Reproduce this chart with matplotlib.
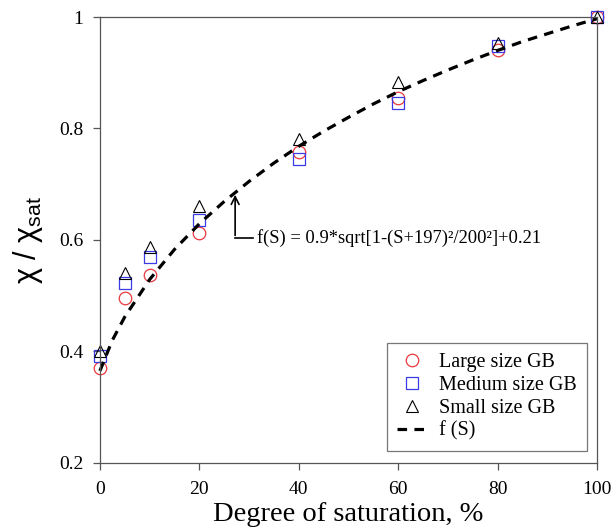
import matplotlib
matplotlib.use("Agg")
import matplotlib.pyplot as plt
from matplotlib.ticker import FuncFormatter

sat = [0, 5, 10, 20, 40, 60, 80, 100]
large_gb = [0.370, 0.496, 0.537, 0.612, 0.758, 0.854, 0.940, 1.000]
medium_gb = [0.391, 0.523, 0.569, 0.635, 0.745, 0.846, 0.948, 1.000]
small_gb = [0.400, 0.541, 0.588, 0.660, 0.782, 0.884, 0.953, 1.000]

# fitted curve f(S)
fit_s = [0, 2.5, 5, 10, 15, 20, 25, 30, 35, 40, 45, 50,
         55, 60, 65, 70, 75, 80, 85, 90, 95, 100]
fit_v = [0.365, 0.420, 0.462, 0.529, 0.583, 0.629, 0.669, 0.705, 0.738, 0.768, 0.795, 0.820,
         0.844, 0.866, 0.886, 0.905, 0.923, 0.940, 0.956, 0.970, 0.984, 0.997]

x_ticks = [0, 20, 40, 60, 80, 100]
y_ticks = [0.2, 0.4, 0.6, 0.8, 1.0]

plt.rcParams["font.family"] = ["Liberation Serif", "DejaVu Sans"]
plt.rcParams["mathtext.fontset"] = "custom"
plt.rcParams["mathtext.rm"] = "Liberation Sans"

fig = plt.figure(figsize=(6.13, 5.32), dpi=100)
ax = fig.add_axes([0.163, 0.13, 0.811, 0.838])

ms = 9
ax.plot(sat, large_gb, "o", mfc="none", mec="#e8383d", mew=0.9, ms=ms, label="Large size GB")
ax.plot(sat, medium_gb, "s", mfc="none", mec="#3a3ae6", mew=0.9, ms=ms, label="Medium size GB")
ax.plot(sat, small_gb, "^", mfc="none", mec="black", mew=0.8, ms=ms, label="Small size GB")
ax.plot(fit_s, fit_v, color="black", lw=2.3, ls=(0, (3, 2.3)), label="f (S)")

ax.set_xlim(0, 100)
ax.set_ylim(0.2, 1.0)
ax.set_xticks(x_ticks)
ax.set_yticks(y_ticks)
ax.yaxis.set_major_formatter(FuncFormatter(lambda v, p: "1" if abs(v - 1) < 1e-9 else f"{v:.1f}"))
ax.tick_params(direction="out", length=5, width=0.9, color="#555555", labelsize=14)
ax.tick_params(axis="x", pad=8)
ax.tick_params(axis="y", pad=7)
for sp in ax.spines.values():
    sp.set_color("#555555")
    sp.set_linewidth(0.9)
for ln in ax.lines:
    ln.set_clip_on(False)

ax.set_xlabel("Degree of saturation, %", fontsize=20.5, labelpad=3)
ax.set_ylabel("χ / χ$_{\\mathrm{sat}}$", fontsize=22, family="Liberation Sans", labelpad=10)

# bent arrow pointing at the curve
ax.annotate("", xy=(27.2, 0.686), xytext=(27.2, 0.603),
            arrowprops=dict(arrowstyle="->", lw=1.2, color="black", mutation_scale=14))
ax.plot([27.2, 30.8], [0.603, 0.603], color="black", lw=1.2)
ax.text(31.6, 0.603, "f(S) = 0.9*sqrt[1-(S+197)²/200²]+0.21",
        fontsize=13.3, va="center", ha="left")

leg = ax.legend(loc="lower right", bbox_to_anchor=(0.98, 0.027), fontsize=14.5,
                frameon=True, fancybox=False, edgecolor="#555555", handlelength=1.5,
                handletextpad=0.6, borderpad=0.5, labelspacing=0.18, borderaxespad=0)
leg.get_frame().set_linewidth(0.9)

fig.savefig("out.png", dpi=100)
